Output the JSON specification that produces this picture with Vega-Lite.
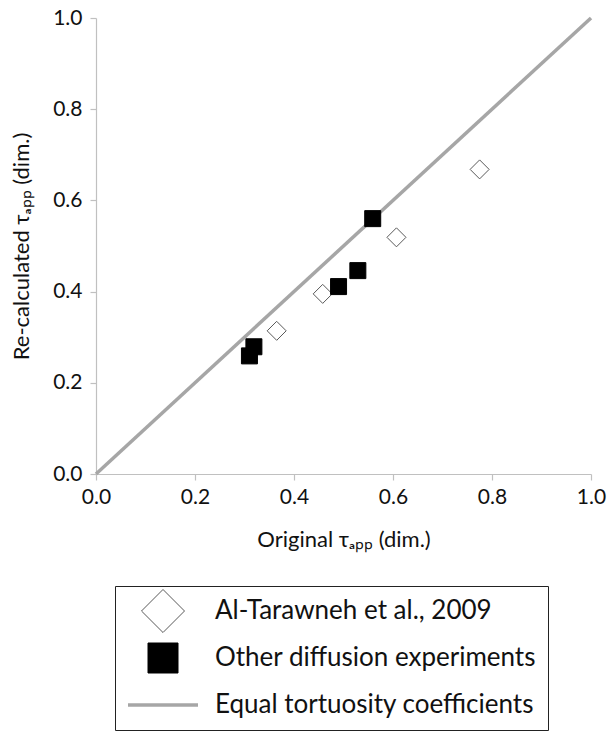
{
  "$schema": "https://vega.github.io/schema/vega-lite/v6.json",
  "width": 495,
  "height": 456,
  "autosize": "none",
  "padding": {"left": 96, "top": 18, "right": 17, "bottom": 259},
  "background": "white",
  "config": {
    "view": {"stroke": null},
    "font": "Lato",
    "axis": {
      "grid": false,
      "domainColor": "#c0c0c0",
      "tickColor": "#c0c0c0",
      "domainWidth": 1.2,
      "tickWidth": 1.2,
      "tickSize": 6,
      "labelFlush": false,
      "labelFont": "Lato",
      "labelFontSize": 21,
      "labelColor": "#111",
      "titleFont": "Lato",
      "titleFontSize": 22,
      "titleFontWeight": "normal",
      "titleColor": "#111"
    },
    "legend": {
      "orient": "none",
      "legendX": 19,
      "legendY": 568,
      "strokeColor": "#222",
      "padding": 12,
      "gridAlign": "all",
      "symbolSize": 1444,
      "symbolOffset": 23,
      "labelOffset": 39,
      "labelFont": "Lato",
      "labelFontSize": 26,
      "labelColor": "#111",
      "labelLimit": 500,
      "rowPadding": 6,
      "symbolOpacity": 1
    }
  },
  "data": {
    "values": [
      {"x": 0.365, "y": 0.314, "series": "Al-Tarawneh et al., 2009"},
      {"x": 0.458, "y": 0.395, "series": "Al-Tarawneh et al., 2009"},
      {"x": 0.607, "y": 0.519, "series": "Al-Tarawneh et al., 2009"},
      {"x": 0.775, "y": 0.668, "series": "Al-Tarawneh et al., 2009"},
      {"x": 0.310, "y": 0.259, "series": "Other diffusion experiments"},
      {"x": 0.319, "y": 0.279, "series": "Other diffusion experiments"},
      {"x": 0.490, "y": 0.411, "series": "Other diffusion experiments"},
      {"x": 0.529, "y": 0.446, "series": "Other diffusion experiments"},
      {"x": 0.559, "y": 0.560, "series": "Other diffusion experiments"},
      {"x": 0.0, "y": 0.0, "series": "Equal tortuosity coefficients"},
      {"x": 1.0, "y": 1.0, "series": "Equal tortuosity coefficients"}
    ]
  },
  "encoding": {
    "x": {
      "field": "x", "type": "quantitative",
      "scale": {"domain": [0, 1], "nice": false},
      "axis": {"values": [0, 0.2, 0.4, 0.6, 0.8, 1.0], "format": ".1f", "labelPadding": 6, "titlePadding": 22, "title": "Original τₐₚₚ (dim.)"}
    },
    "y": {
      "field": "y", "type": "quantitative",
      "scale": {"domain": [0, 1], "nice": false},
      "axis": {"values": [0, 0.2, 0.4, 0.6, 0.8, 1.0], "format": ".1f", "labelPadding": 8, "titlePadding": 19, "title": "Re-calculated τₐₚₚ (dim.)"}
    }
  },
  "layer": [
    {
      "transform": [{"filter": "datum.series === 'Equal tortuosity coefficients'"}],
      "mark": {"type": "line", "color": "#a6a6a6", "strokeWidth": 3.5},
      "encoding": {}
    },
    {
      "transform": [{"filter": "datum.series === 'Al-Tarawneh et al., 2009'"}],
      "mark": {"type": "point", "size": 361, "opacity": 1, "strokeWidth": 1},
      "encoding": {
        "shape": {
          "field": "series", "type": "nominal",
          "scale": {"domain": ["Al-Tarawneh et al., 2009", "Other diffusion experiments", "Equal tortuosity coefficients"], "range": ["diamond", "square", "stroke"]},
          "legend": {
            "title": null,
            "encode": {
              "symbols": {
                "update": {
                  "size": {"signal": "datum.value === 'Al-Tarawneh et al., 2009' ? 1850 : datum.value === 'Other diffusion experiments' ? 900 : 4900"},
                  "strokeWidth": {"signal": "datum.value === 'Equal tortuosity coefficients' ? 3.5 : 1"}
                }
              }
            }
          }
        },
        "fill": {
          "field": "series", "type": "nominal",
          "scale": {"domain": ["Al-Tarawneh et al., 2009", "Other diffusion experiments", "Equal tortuosity coefficients"], "range": ["white", "black", "#a6a6a6"]},
          "legend": {
            "title": null,
            "encode": {
              "symbols": {
                "update": {
                  "size": {"signal": "datum.value === 'Al-Tarawneh et al., 2009' ? 1850 : datum.value === 'Other diffusion experiments' ? 900 : 4900"},
                  "strokeWidth": {"signal": "datum.value === 'Equal tortuosity coefficients' ? 3.5 : 1"}
                }
              }
            }
          }
        },
        "stroke": {
          "field": "series", "type": "nominal",
          "scale": {"domain": ["Al-Tarawneh et al., 2009", "Other diffusion experiments", "Equal tortuosity coefficients"], "range": ["#595959", "black", "#a6a6a6"]},
          "legend": {
            "title": null,
            "encode": {
              "symbols": {
                "update": {
                  "size": {"signal": "datum.value === 'Al-Tarawneh et al., 2009' ? 1850 : datum.value === 'Other diffusion experiments' ? 900 : 4900"},
                  "strokeWidth": {"signal": "datum.value === 'Equal tortuosity coefficients' ? 3.5 : 1"}
                }
              }
            }
          }
        }
      }
    },
    {
      "transform": [{"filter": "datum.series === 'Other diffusion experiments'"}],
      "mark": {"type": "point", "size": 256, "opacity": 1, "strokeWidth": 1},
      "encoding": {
        "shape": {"field": "series", "type": "nominal"},
        "fill": {"field": "series", "type": "nominal"},
        "stroke": {"field": "series", "type": "nominal"}
      }
    }
  ]
}
